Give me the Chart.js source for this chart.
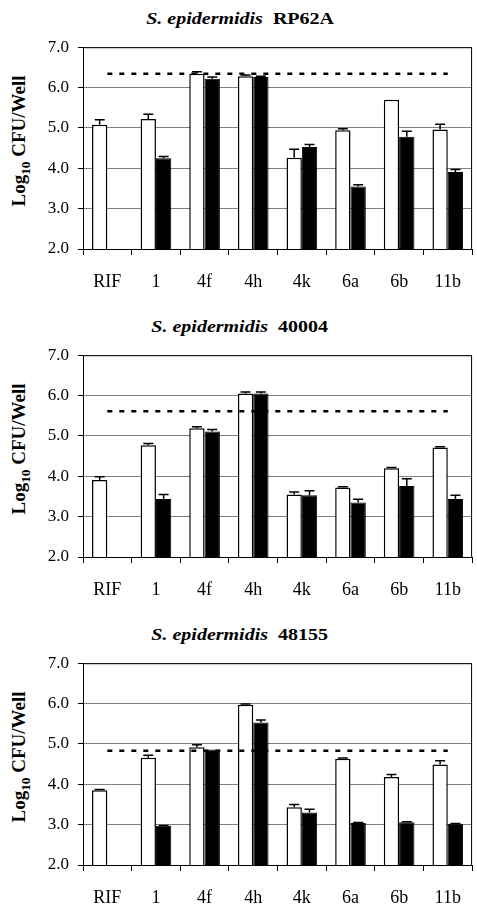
<!DOCTYPE html>
<html>
<head>
<meta charset="utf-8">
<script src="https://cdn.jsdelivr.net/npm/chart.js@4/dist/chart.umd.min.js"></script>
<style>
  body { margin: 0; background: #fff; }
  #page { position: relative; width: 477px; height: 905px; overflow: hidden; }
  .title {
    position: absolute; left: 0; width: 480px; height: 20px; line-height: 20px;
    text-align: center; font: bold 16px "Liberation Serif", serif; color: #000;
  }
  .title span { display: inline-block; transform: scaleX(1.25); }
  .ytitle {
    position: absolute; white-space: nowrap;
    font: bold 19px "Liberation Serif", serif; color: #000;
    transform: translate(-50%, -50%) rotate(-90deg);
  }
  .ytitle sub { font-size: 0.7em; line-height: 0; }
  .box { position: absolute; left: 0; width: 477px; height: 261px; }
</style>
</head>
<body>
<div id="page">
  <div class="title" style="top:10px"><span><i>S. epidermidis</i>&nbsp; RP62A</span></div>
  <div class="ytitle" style="left:19px;top:141px">Log<sub>10</sub> CFU/Well</div>
  <div class="box" style="top:28px"><canvas id="c1"></canvas></div>

  <div class="title" style="top:318px"><span><i>S. epidermidis</i>&nbsp; 40004</span></div>
  <div class="ytitle" style="left:19px;top:449px">Log<sub>10</sub> CFU/Well</div>
  <div class="box" style="top:336px"><canvas id="c2"></canvas></div>

  <div class="title" style="top:626px"><span><i>S. epidermidis</i>&nbsp; 48155</span></div>
  <div class="ytitle" style="left:19px;top:757px">Log<sub>10</sub> CFU/Well</div>
  <div class="box" style="top:644px"><canvas id="c3"></canvas></div>
</div>

<script>
// data
const categories = ['RIF', '1', '4f', '4h', '4k', '6a', '6b', '11b'];
const yTicks = [2, 3, 4, 5, 6, 7];

// RP62A
const rp62aWhite    = [5.08, 5.22, 6.34, 6.28, 4.26, 4.94, 5.70, 4.96];
const rp62aWhiteErr = [0.12, 0.12, 0.05, 0.03, 0.21, 0.04, 0.00, 0.13];
const rp62aBlack    = [null, 4.25, 6.22, 6.26, 4.53, 3.55, 4.78, 3.91];
const rp62aBlackErr = [0,    0.04, 0.04, 0.02, 0.06, 0.04, 0.14, 0.06];
const rp62aLine     = 6.34;

// 40004
const s40004White    = [3.91, 4.77, 5.19, 6.05, 3.55, 3.72, 4.20, 4.71];
const s40004WhiteErr = [0.08, 0.04, 0.04, 0.04, 0.06, 0.02, 0.02, 0.02];
const s40004Black    = [null, 3.44, 5.11, 6.05, 3.53, 3.35, 3.76, 3.44];
const s40004BlackErr = [0,    0.11, 0.05, 0.04, 0.11, 0.08, 0.18, 0.09];
const s40004Line     = 5.61;

// 48155
const s48155White    = [3.85, 4.66, 4.92, 5.97, 3.43, 4.63, 4.18, 4.49];
const s48155WhiteErr = [0.02, 0.06, 0.06, 0.02, 0.07, 0.02, 0.06, 0.09];
const s48155Black    = [null, 2.97, 4.86, 5.53, 3.30, 3.04, 3.06, 3.02];
const s48155BlackErr = [0,    0.01, 0.00, 0.06, 0.08, 0.01, 0.01, 0.01];
const s48155Line     = 4.83;

Chart.defaults.font.family = '"Liberation Serif", serif';
Chart.defaults.color = '#000';

// up-only error bars with a cap
const errorBars = {
  id: 'errorBars',
  afterDatasetsDraw(chart) {
    const ctx = chart.ctx;
    const y = chart.scales.y;
    ctx.save();
    ctx.strokeStyle = '#000';
    ctx.lineWidth = 1.5;
    chart.data.datasets.forEach(function(ds, i) {
      if (!ds.err) return;
      chart.getDatasetMeta(i).data.forEach(function(bar, j) {
        const v = ds.data[j];
        if (v == null || !ds.err[j]) return;
        const top = y.getPixelForValue(v + ds.err[j]);
        ctx.beginPath();
        ctx.moveTo(bar.x, bar.y);
        ctx.lineTo(bar.x, top);
        ctx.moveTo(bar.x - 5, top);
        ctx.lineTo(bar.x + 5, top);
        ctx.stroke();
      });
    });
    ctx.restore();
  }
};

// dark frame round the plot area
const plotFrame = {
  id: 'plotFrame',
  beforeDatasetsDraw(chart) {
    const a = chart.chartArea;
    const ctx = chart.ctx;
    ctx.save();
    ctx.strokeStyle = '#000';
    ctx.lineWidth = 1;
    ctx.strokeRect(a.left + 0.5, a.top + 0.5, a.right - a.left - 1, a.bottom - a.top);
    ctx.restore();
  }
};

function makeChart(id, white, whiteErr, black, blackErr, line) {
  return new Chart(document.getElementById(id), {
    type: 'bar',
    data: {
      labels: categories,
      datasets: [{
        type: 'line',
        data: categories.map(function() { return line; }),
        borderColor: '#000',
        borderWidth: 2.5,
        borderDash: [5, 7],
        pointRadius: 0,
        fill: false,
        order: 0,
      }, {
        data: white,
        err: whiteErr,
        backgroundColor: '#fff',
        borderColor: '#000',
        borderWidth: 1.5,
        categoryPercentage: 0.63,
        barPercentage: 1,
        order: 1,
      }, {
        data: black,
        err: blackErr,
        backgroundColor: '#000',
        borderColor: '#000',
        borderWidth: 1,
        categoryPercentage: 0.63,
        barPercentage: 1,
        order: 1,
      }]
    },
    options: {
      responsive: true,
      maintainAspectRatio: false,
      animation: false,
      layout: { padding: { top: 6, right: 1, left: 0, bottom: 0 } },
      plugins: { legend: { display: false }, tooltip: { enabled: false } },
      scales: {
        x: {
          grid: { offset: true, drawOnChartArea: false, tickLength: 6, color: '#000' },
          border: { color: '#000' },
          ticks: { font: { size: 18 }, padding: 16 },
          afterFit: function(s) { s.height = 40; }
        },
        y: {
          min: yTicks[0],
          max: yTicks[yTicks.length - 1],
          afterBuildTicks: function(s) { s.ticks = yTicks.map(function(v) { return { value: v }; }); },
          grid: { color: '#808080', tickColor: '#000', tickLength: 5 },
          border: { color: '#000' },
          ticks: { font: { size: 17 }, padding: 9, callback: function(v) { return v.toFixed(1); } },
          afterFit: function(s) { s.width = 83; }
        }
      }
    },
    plugins: [plotFrame, errorBars]
  });
}

makeChart('c1', rp62aWhite, rp62aWhiteErr, rp62aBlack, rp62aBlackErr, rp62aLine);
makeChart('c2', s40004White, s40004WhiteErr, s40004Black, s40004BlackErr, s40004Line);
makeChart('c3', s48155White, s48155WhiteErr, s48155Black, s48155BlackErr, s48155Line);
</script>
</body>
</html>
